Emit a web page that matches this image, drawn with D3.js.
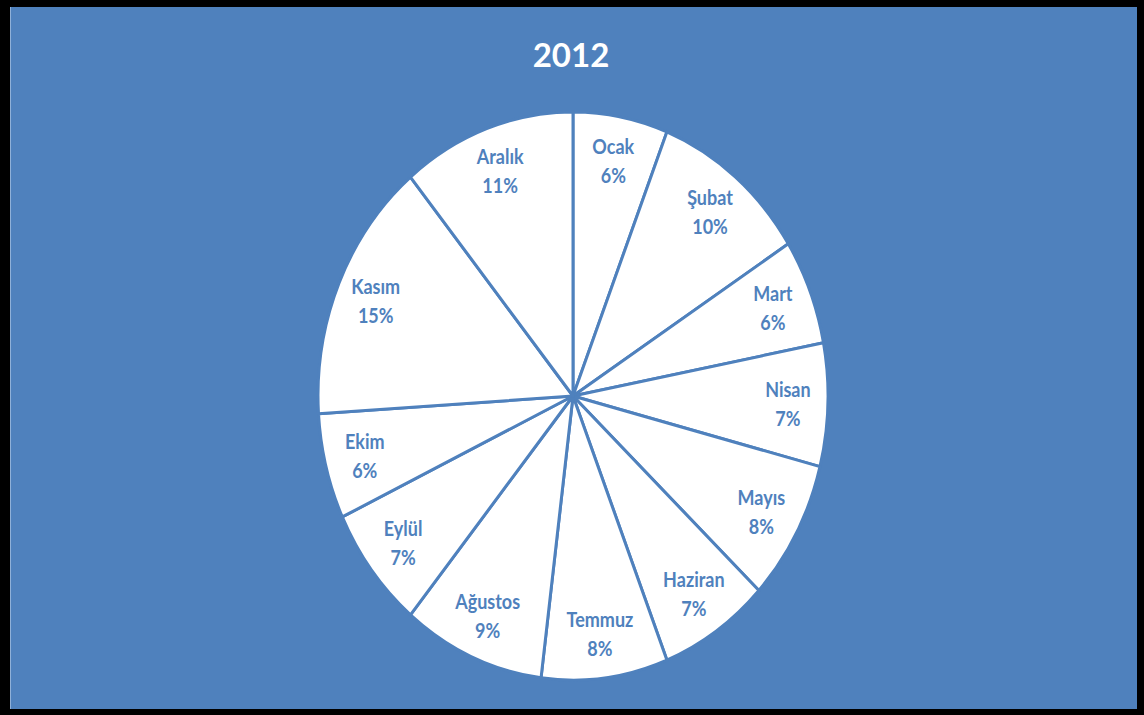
<!DOCTYPE html>
<html>
<head>
<meta charset="utf-8">
<script src="https://cdn.jsdelivr.net/npm/d3@7/dist/d3.min.js"></script>
<style>
  html, body { margin: 0; padding: 0; background: #000; }
  svg { display: block; }
</style>
</head>
<body>
<svg id="chart" width="1144" height="715"></svg>
<script>
// Monthly shares for 2012 (percent)
const months = ["Ocak", "Şubat", "Mart", "Nisan", "Mayıs", "Haziran",
                "Temmuz", "Ağustos", "Eylül", "Ekim", "Kasım", "Aralık"];
const shares = [6, 10, 6, 7, 8, 7, 8, 9, 7, 6, 15, 11];
const title = "2012";

const W = 1144, H = 715;
const blue = "#4F81BD";
const cx = 573, cy = 396;
const R = 255;          // horizontal radius
const stretchY = 1.114; // the pie is drawn as an upright ellipse
const labelR = 215;

const svg = d3.select("#chart");

// black frame with blue chart area
svg.append("rect").attr("width", W).attr("height", H).attr("fill", "#000");
svg.append("rect")
  .attr("x", 11).attr("y", 7).attr("width", 1126).attr("height", 702)
  .attr("fill", blue);
svg.append("line")
  .attr("x1", 10.5).attr("x2", 10.5).attr("y1", 7).attr("y2", 709)
  .attr("stroke", "#8fb0d8").attr("stroke-width", 1);

// title
svg.append("text")
  .attr("x", 571).attr("y", 67)
  .attr("text-anchor", "middle")
  .attr("font-family", "Lato, 'Open Sans', sans-serif")
  .attr("font-weight", 700)
  .attr("font-size", 33)
  .attr("fill", "#fff")
  .text(title);

const data = months.map((m, i) => ({ month: m, value: shares[i] }));

const pie = d3.pie()
  .sort(null)
  .value(d => d.value)
  .startAngle(0)
  .endAngle(2 * Math.PI);

const arcs = pie(data);

const arc = d3.arc().innerRadius(0).outerRadius(R);
const labelArc = d3.arc().innerRadius(labelR).outerRadius(labelR);

const g = svg.append("g")
  .attr("transform", `translate(${cx},${cy}) scale(1,${stretchY})`);

g.selectAll("path.slice")
  .data(arcs)
  .join("path")
  .attr("class", "slice")
  .attr("d", arc)
  .attr("fill", "#fff")
  .attr("stroke", blue)
  .attr("stroke-width", 3)
  .attr("stroke-linejoin", "round")
  .attr("vector-effect", "non-scaling-stroke");

const fmt = d3.format(".0%");

const labels = svg.append("g")
  .attr("font-family", "Lato, 'Open Sans', sans-serif")
  .attr("font-weight", 700)
  .attr("font-size", 18)
  .attr("fill", blue)
  .attr("text-anchor", "middle");

arcs.forEach(a => {
  const [lx, ly] = labelArc.centroid(a);
  const x = cx + lx;
  const y = cy + ly * stretchY;
  const t = labels.append("text")
    .attr("transform", `translate(${x},${y}) scale(1,${stretchY})`);
  t.append("tspan").attr("x", 0).attr("y", -6).text(a.data.month);
  t.append("tspan").attr("x", 0).attr("y", 20).text(fmt(a.data.value / 100));
});
</script>
</body>
</html>
